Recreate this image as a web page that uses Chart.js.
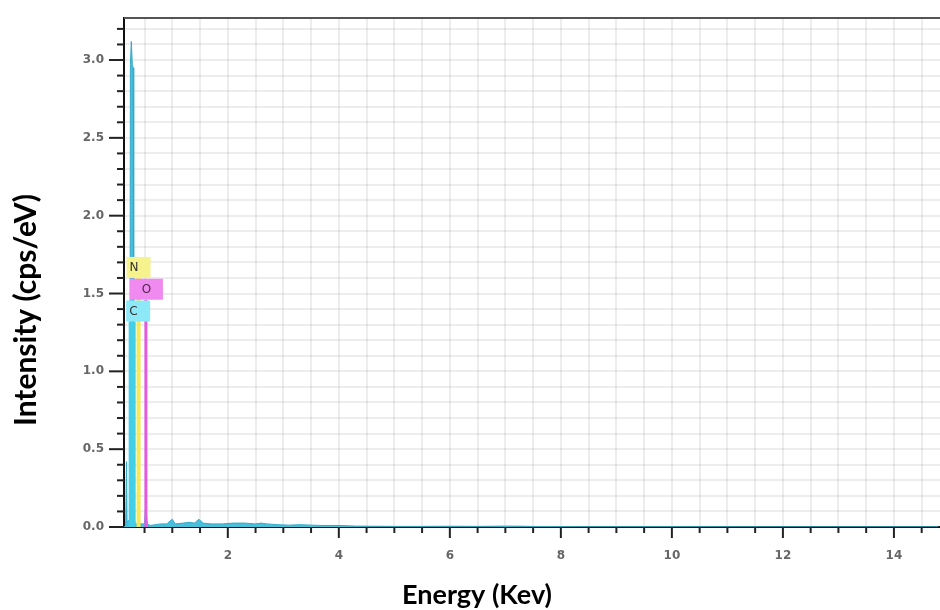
<!DOCTYPE html>
<html>
<head>
<meta charset="utf-8">
<script src="https://cdn.jsdelivr.net/npm/chart.js@4.4.1/dist/chart.umd.min.js"></script>
<style>
  body { margin: 0; background: #fff; }
  canvas { display: block; }
</style>
</head>
<body>
<canvas id="eds" width="940" height="610"></canvas>
<script>
// spectrum (keV, cps/eV)
const energy = [0.13, 0.16, 0.175, 0.185, 0.235, 0.245, 0.262, 0.28, 0.295, 0.305, 0.33, 0.40, 0.50, 0.52, 0.55,
  0.6, 0.7, 0.8, 0.9, 1.0, 1.05, 1.2, 1.3, 1.4, 1.48, 1.55, 1.7, 1.9, 2.1, 2.3, 2.5, 2.6, 2.7, 2.9,
  3.1, 3.3, 3.5, 3.7, 4.0, 4.3, 4.6, 5.0, 5.5, 6.0, 6.5, 7.0, 7.3, 7.6, 8.5, 10, 12, 14.8]
const intensity = [0, 0.01, 0.42, 0.03, 0.05, 2.97, 3.12, 2.97, 2.95, 0.1, 0.02, 0.02, 0.02, 0.14, 0.02,
  0.01, 0.015, 0.02, 0.02, 0.05, 0.02, 0.025, 0.03, 0.025, 0.05, 0.025, 0.02, 0.02, 0.025, 0.025, 0.02, 0.025, 0.02, 0.015,
  0.012, 0.015, 0.012, 0.01, 0.01, 0.006, 0.005, 0.004, 0.004, 0.005, 0.004, 0.006, 0.005, 0.003, 0.002, 0.002, 0.001, 0.001]

// element markers
const elements = ["C", "N", "O"]
const lineEnergy = [0.277, 0.392, 0.525]
const markerTop = [1.32, 1.6, 1.46]
const markerColor = ["#43cfe8", "#f2ea55", "#e45be0"]
const boxColor = ["#8de9f8", "#f6f28e", "#f08af0"]
const markerWidth = [7, 4, 3]

const xMin = 0.13, xMax = 14.83, yMin = 0, yMax = 3.27

var spectrum = energy.map((e, i) => ({ x: e, y: intensity[i] }))

var datasets = [{
  data: spectrum,
  borderColor: "#35a8c6",
  backgroundColor: "#48c0dc",
  borderWidth: 1,
  pointRadius: 0,
  fill: "origin",
  tension: 0,
  order: 2
}]
elements.forEach((el, i) => {
  datasets.push({
    data: [{ x: lineEnergy[i], y: 0 }, { x: lineEnergy[i], y: markerTop[i] }],
    borderColor: markerColor[i],
    borderWidth: markerWidth[i],
    borderCapStyle: "butt",
    pointRadius: 0,
    fill: false,
    order: 1
  })
})

const boxOffset = [-6, -12, -16]
const boxWidth = [24, 24, 33]

const extras = {
  id: "extras",
  afterDatasetsDraw(chart) {
    const ctx = chart.ctx
    const xs = chart.scales.x, ys = chart.scales.y
    const a = chart.chartArea
    ctx.save()
    // element label boxes
    elements.forEach((el, i) => {
      const px = xs.getPixelForValue(lineEnergy[i])
      const py = ys.getPixelForValue(markerTop[i])
      ctx.fillStyle = boxColor[i]
      ctx.fillRect(px + boxOffset[i], py - 21, boxWidth[i], 21)
      ctx.fillStyle = el === "O" ? "#4a2a4a" : "#333"
      ctx.font = "12px 'DejaVu Sans'"
      ctx.textBaseline = "middle"
      ctx.textAlign = el === "O" ? "center" : "left"
      const tx = el === "O" ? px + boxOffset[i] + boxWidth[i] / 2 : px + boxOffset[i] + 3
      ctx.fillText(el, tx, py - 10)
    })
    // top border
    ctx.strokeStyle = "#555"
    ctx.lineWidth = 2
    ctx.beginPath()
    ctx.moveTo(a.left, a.top)
    ctx.lineTo(a.right, a.top)
    ctx.stroke()
    // tick marks
    ctx.strokeStyle = "#222"
    ctx.lineWidth = 2
    xs.ticks.forEach(t => {
      const p = xs.getPixelForValue(t.value)
      const major = Math.abs(t.value / 2 - Math.round(t.value / 2)) < 1e-6
      ctx.beginPath()
      ctx.moveTo(p, a.bottom)
      ctx.lineTo(p, a.bottom + (major ? 11 : 6))
      ctx.stroke()
    })
    ys.ticks.forEach(t => {
      const p = ys.getPixelForValue(t.value)
      const major = Math.abs(t.value * 2 - Math.round(t.value * 2)) < 1e-6
      ctx.beginPath()
      ctx.moveTo(a.left, p)
      ctx.lineTo(a.left - (major ? 15 : 7), p)
      ctx.stroke()
    })
    // axis titles
    ctx.fillStyle = "#000"
    ctx.textAlign = "center"
    ctx.textBaseline = "alphabetic"
    ctx.font = "bold 27px Lato"
    ctx.fillText("Energy (Kev)", 477, 604)
    ctx.font = "bold 30px Lato"
    ctx.translate(36, 310)
    ctx.rotate(-Math.PI / 2)
    ctx.fillText("Intensity (cps/eV)", 0, 0)
    ctx.restore()
  }
}

var ctx = document.querySelector("#eds").getContext("2d")
var chart = new Chart(ctx, {
  type: "line",
  data: { datasets: datasets },
  options: {
    responsive: false,
    animation: false,
    layout: { padding: { top: 18, right: 0, left: 0, bottom: 0 } },
    plugins: { legend: { display: false }, tooltip: { enabled: false } },
    scales: {
      x: {
        type: "linear",
        min: xMin,
        max: xMax,
        afterFit: s => { s.height = 83; s.paddingLeft = 0; s.paddingRight = 0 },
        border: { color: "#111", width: 2 },
        grid: { color: "rgba(0,0,0,0.07)", lineWidth: 2, drawTicks: false },
        ticks: {
          stepSize: 0.5,
          includeBounds: false,
          autoSkip: false,
          maxRotation: 0,
          padding: 22,
          color: "#666",
          font: { family: "DejaVu Sans", size: 12, weight: "bold" },
          callback: v => (Math.abs(v / 2 - Math.round(v / 2)) < 1e-6 ? String(Math.round(v)) : "")
        }
      },
      y: {
        min: yMin,
        max: yMax,
        afterFit: s => { s.width = 124; s.paddingTop = 0; s.paddingBottom = 0 },
        border: { color: "#111", width: 2 },
        grid: { color: "rgba(0,0,0,0.07)", lineWidth: 2, drawTicks: false },
        ticks: {
          stepSize: 0.1,
          includeBounds: false,
          autoSkip: false,
          padding: 20,
          color: "#666",
          font: { family: "DejaVu Sans", size: 12, weight: "bold" },
          callback: v => (Math.abs(v * 2 - Math.round(v * 2)) < 1e-6 ? v.toFixed(1) : "")
        }
      }
    }
  },
  plugins: [extras]
})
</script>
</body>
</html>
